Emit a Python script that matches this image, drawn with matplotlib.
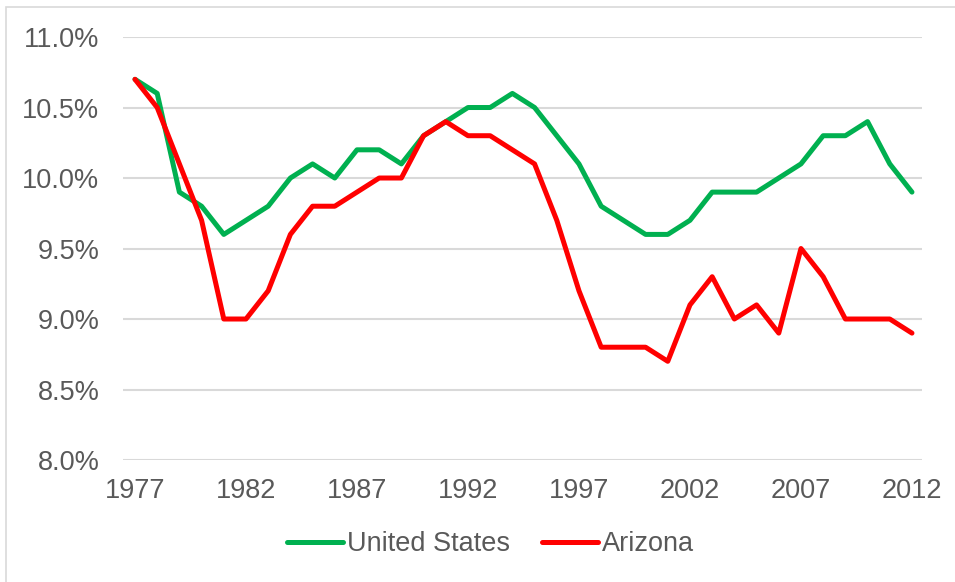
import matplotlib.pyplot as plt
from matplotlib.patches import Rectangle
from matplotlib.ticker import FuncFormatter

# Datos
years = list(range(1977, 2013))
united_states = [10.7, 10.6, 9.9, 9.8, 9.6, 9.7, 9.8, 10.0, 10.1, 10.0,
                 10.2, 10.2, 10.1, 10.3, 10.4, 10.5, 10.5, 10.6, 10.5, 10.3,
                 10.1, 9.8, 9.7, 9.6, 9.6, 9.7, 9.9, 9.9, 9.9, 10.0,
                 10.1, 10.3, 10.3, 10.4, 10.1, 9.9]
arizona = [10.7, 10.5, 10.1, 9.7, 9.0, 9.0, 9.2, 9.6, 9.8, 9.8,
           9.9, 10.0, 10.0, 10.3, 10.4, 10.3, 10.3, 10.2, 10.1, 9.7,
           9.2, 8.8, 8.8, 8.8, 8.7, 9.1, 9.3, 9.0, 9.1, 8.9,
           9.5, 9.3, 9.0, 9.0, 9.0, 8.9]
x_ticks = [1977, 1982, 1987, 1992, 1997, 2002, 2007, 2012]
y_ticks = [8.0, 8.5, 9.0, 9.5, 10.0, 10.5, 11.0]

plt.rcParams['font.family'] = ['Liberation Sans', 'DejaVu Sans']

fig = plt.figure(figsize=(9.55, 5.82), dpi=100)
# area del grafico: x 123-922 px, y 37-460 px
ax = fig.add_axes([0.1288, 0.2096, 0.8366, 0.7268])

ax.plot(years, united_states, color="#00B050", lw=3.6, label="United States",
        solid_joinstyle="round", solid_capstyle="round")
ax.plot(years, arizona, color="#FF0000", lw=3.6, label="Arizona",
        solid_joinstyle="round", solid_capstyle="round")

ax.set_xlim(1976.46, 2012.45)
ax.set_ylim(8.0, 11.0)
ax.set_xticks(x_ticks)
ax.set_yticks(y_ticks)
ax.yaxis.set_major_formatter(FuncFormatter(lambda v, p: f"{v:.1f}%"))
ax.tick_params(length=0, labelsize=19.5, labelcolor="#595959")
ax.tick_params(axis="x", pad=13)
ax.tick_params(axis="y", pad=17)
ax.grid(axis="y", color="#D9D9D9", lw=1.5)
ax.set_axisbelow(True)
for s in ax.spines.values():
    s.set_visible(False)

ax.legend(loc="center", bbox_to_anchor=(0.46, -0.199), ncol=2, frameon=False,
          fontsize=19.5, labelcolor="#595959", handlelength=2.05, handletextpad=0.15,
          columnspacing=1.2)

# Borde del grafico
fig.patches.append(Rectangle((0.0068, -0.05), 1.2, 1.05 - 6.5 / 582,
                             transform=fig.transFigure, fill=False,
                             edgecolor="#D9D9D9", lw=1.2))

fig.savefig("out.png", dpi=100)
